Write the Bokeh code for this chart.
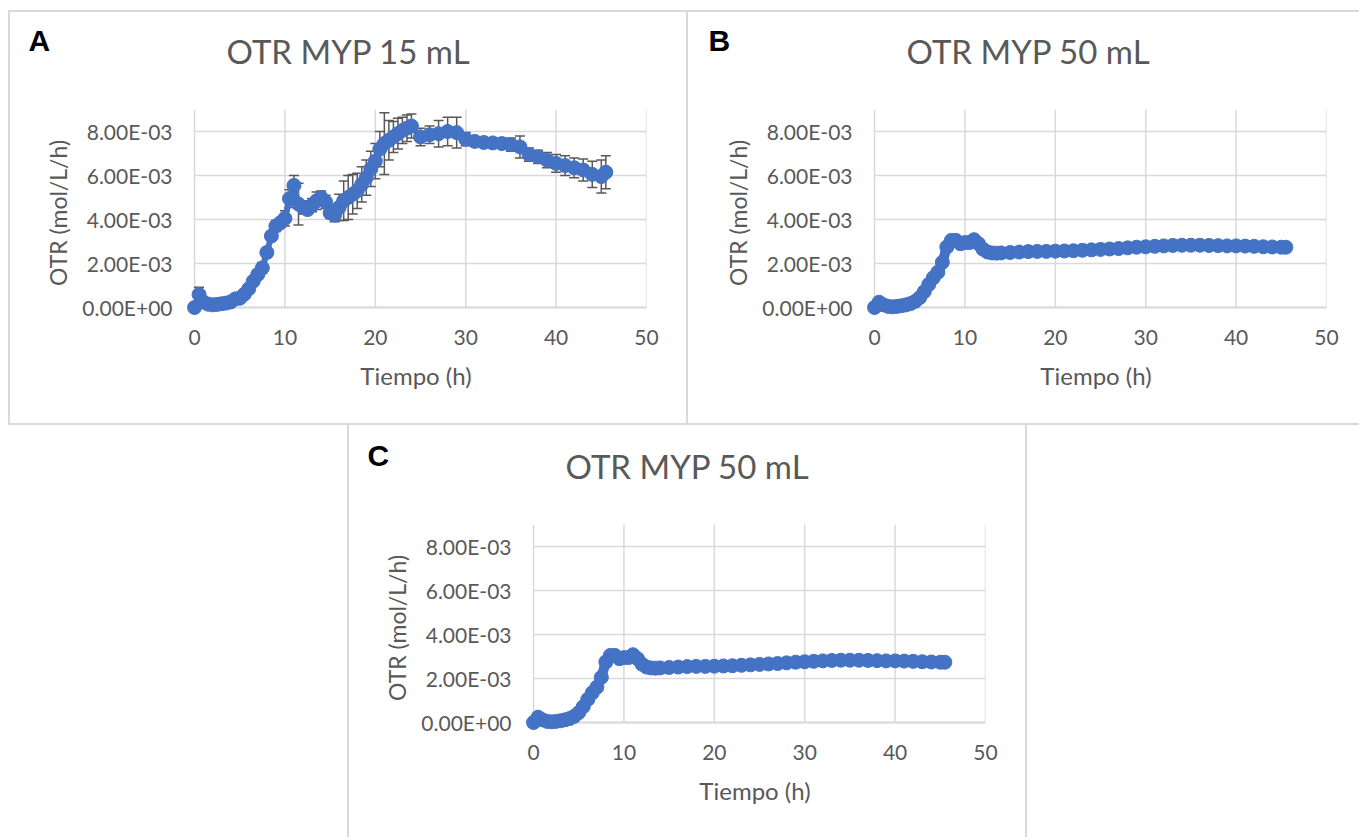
from bokeh.plotting import figure
from bokeh.models import Range1d, FixedTicker, Label, Whisker, TeeHead, ColumnDataSource, Spacer
from bokeh.layouts import column, row
from bokeh.embed import file_html
from bokeh.resources import INLINE

# ---------------- data ----------------
x_ticks = [0, 10, 20, 30, 40, 50]
x_tick_labels = ["0", "10", "20", "30", "40", "50"]
y_ticks = [0.0, 0.002, 0.004, 0.006, 0.008]
y_tick_labels = ["0.00E+00", "2.00E-03", "4.00E-03", "6.00E-03", "8.00E-03"]
x_max = 50
y_max = 0.009

titles = ["OTR MYP 15 mL", "OTR MYP 50 mL", "OTR MYP 50 mL"]
panel_letters = ["A", "B", "C"]
x_label = "Tiempo (h)"
y_label = "OTR (mol/L/h)"

# Panel A: OTR MYP 15 mL (mean and error bar half-width, mol/L/h)
time_a = [0, 0.5, 1, 1.5, 2, 2.5, 3, 3.5, 4, 4.5, 5, 5.5, 6, 6.5, 7, 7.5, 8, 8.5, 9, 9.5,
          10, 10.5, 11, 11.5, 12, 12.5, 13, 13.5, 14, 14.5, 15, 15.5, 16, 16.5, 17, 17.5,
          18, 18.5, 19, 19.5, 20, 20.5, 21, 21.5, 22, 22.5, 23, 23.5, 24, 25, 26, 27, 28,
          29, 30, 31, 32, 33, 34, 35, 36, 37, 38, 39, 40, 41, 42, 43, 44, 45, 45.5]
otr_a = [0.00e-3, 0.59e-3, 0.25e-3, 0.15e-3, 0.12e-3, 0.14e-3, 0.17e-3, 0.20e-3, 0.25e-3, 0.39e-3,
         0.42e-3, 0.60e-3, 0.85e-3, 1.20e-3, 1.50e-3, 1.80e-3, 2.50e-3, 3.25e-3, 3.70e-3, 3.85e-3,
         4.05e-3, 4.95e-3, 5.55e-3, 4.70e-3, 4.55e-3, 4.45e-3, 4.65e-3, 4.85e-3, 5.00e-3, 4.80e-3,
         4.30e-3, 4.20e-3, 4.55e-3, 4.85e-3, 5.00e-3, 5.15e-3, 5.30e-3, 5.60e-3, 5.90e-3, 6.30e-3,
         6.65e-3, 7.20e-3, 7.45e-3, 7.60e-3, 7.75e-3, 7.90e-3, 8.05e-3, 8.15e-3, 8.25e-3, 7.75e-3,
         7.85e-3, 7.90e-3, 8.00e-3, 7.95e-3, 7.65e-3, 7.55e-3, 7.50e-3, 7.48e-3, 7.45e-3, 7.40e-3,
         7.30e-3, 6.95e-3, 6.85e-3, 6.70e-3, 6.55e-3, 6.45e-3, 6.35e-3, 6.25e-3, 6.05e-3, 5.95e-3,
         6.15e-3]
err_a = [0.05e-3, 0.33e-3, 0.10e-3, 0.05e-3, 0.05e-3, 0.05e-3, 0.05e-3, 0.05e-3, 0.05e-3, 0.08e-3,
         0.08e-3, 0.10e-3, 0.15e-3, 0.15e-3, 0.20e-3, 0.25e-3, 0.20e-3, 0.20e-3, 0.25e-3, 0.20e-3,
         0.35e-3, 0.40e-3, 0.45e-3, 0.95e-3, 0.30e-3, 0.20e-3, 0.30e-3, 0.40e-3, 0.30e-3, 0.30e-3,
         0.25e-3, 0.30e-3, 0.60e-3, 0.90e-3, 1.00e-3, 0.90e-3, 0.80e-3, 0.80e-3, 0.80e-3, 0.80e-3,
         0.80e-3, 0.80e-3, 1.40e-3, 0.90e-3, 0.70e-3, 0.70e-3, 0.60e-3, 0.60e-3, 0.55e-3, 0.40e-3,
         0.40e-3, 0.60e-3, 0.65e-3, 0.70e-3, 0.30e-3, 0.20e-3, 0.20e-3, 0.20e-3, 0.20e-3, 0.30e-3,
         0.50e-3, 0.30e-3, 0.30e-3, 0.35e-3, 0.40e-3, 0.45e-3, 0.45e-3, 0.50e-3, 0.60e-3, 0.75e-3,
         0.75e-3]

# Panel B: OTR MYP 50 mL
time_b = [0, 0.5, 1, 1.5, 2, 2.5, 3, 3.5, 4, 4.5, 5, 5.5, 6, 6.5, 7, 7.5, 8, 8.5, 9, 9.5,
          10, 10.5, 11, 11.5, 12, 12.5, 13, 13.5, 14, 15, 16, 17, 18, 19, 20, 21, 22, 23, 24,
          25, 26, 27, 28, 29, 30, 31, 32, 33, 34, 35, 36, 37, 38, 39, 40, 41, 42, 43, 44, 45, 45.5]
otr_b = [0.00e-3, 0.24e-3, 0.12e-3, 0.05e-3, 0.03e-3, 0.05e-3, 0.08e-3, 0.12e-3, 0.18e-3, 0.28e-3,
         0.45e-3, 0.72e-3, 1.05e-3, 1.35e-3, 1.60e-3, 2.05e-3, 2.75e-3, 3.05e-3, 3.05e-3, 2.90e-3,
         2.95e-3, 2.95e-3, 3.08e-3, 2.90e-3, 2.65e-3, 2.52e-3, 2.48e-3, 2.47e-3, 2.48e-3, 2.50e-3,
         2.52e-3, 2.54e-3, 2.55e-3, 2.55e-3, 2.56e-3, 2.57e-3, 2.58e-3, 2.60e-3, 2.62e-3, 2.64e-3,
         2.66e-3, 2.68e-3, 2.71e-3, 2.74e-3, 2.76e-3, 2.78e-3, 2.80e-3, 2.82e-3, 2.83e-3, 2.83e-3,
         2.83e-3, 2.82e-3, 2.81e-3, 2.80e-3, 2.80e-3, 2.79e-3, 2.78e-3, 2.76e-3, 2.75e-3, 2.74e-3,
         2.74e-3]

# Panel C: the same 50 mL series, shown again
time_c = list(time_b)
otr_c = list(otr_b)

# ---------------- style ----------------
BLUE = "#4472c4"
GRID = "#d9d9d9"
TEXT = "#595959"
FONT = "Lato"
X_VIEW = (-1.0, 50.0)
Y_VIEW = (-0.41e-3, 0.009)


def make_panel(title, letter, t, y, err, width, height, mleft, mright, mtop, mbottom, shadow, lw):
    p = figure(width=width, height=height,
               x_range=Range1d(*X_VIEW), y_range=Range1d(*Y_VIEW),
               output_backend="svg", toolbar_location=None,
               min_border_left=mleft, min_border_right=mright,
               min_border_top=mtop, min_border_bottom=mbottom,
               background_fill_color=None, border_fill_color=None,
               outline_line_color=None)
    p.grid.visible = False
    p.styles = {"box-shadow": shadow}

    # gridlines (drawn from the tick arrays)
    p.segment(x0=x_ticks, y0=[0] * len(x_ticks), x1=x_ticks, y1=[y_max] * len(x_ticks),
              line_color=GRID, line_width=1.5, level="image")
    p.segment(x0=[0] * len(y_ticks), y0=y_ticks, x1=[x_max] * len(y_ticks), y1=y_ticks,
              line_color=GRID, line_width=1.5, level="image")
    p.segment(x0=[0], y0=[0], x1=[x_max], y1=[0], line_color=GRID, line_width=2, level="image")

    if err is not None:
        src = ColumnDataSource(dict(t=t,
                                    up=[a + b for a, b in zip(y, err)],
                                    lo=[a - b for a, b in zip(y, err)]))
        w = Whisker(base="t", upper="up", lower="lo", source=src,
                    line_color=TEXT, line_width=1.5, level="underlay",
                    upper_head=TeeHead(size=10, line_color=TEXT, line_width=1.5),
                    lower_head=TeeHead(size=10, line_color=TEXT, line_width=1.5))
        p.add_layout(w)

    p.line(t, y, line_color=BLUE, line_width=lw, line_join="round")
    p.scatter(t, y, size=14, fill_color=BLUE, line_color=BLUE)

    for ax in (p.xaxis[0], p.yaxis[0]):
        ax.axis_line_color = None
        ax.major_tick_line_color = None
        ax.minor_tick_line_color = None
        ax.major_tick_out = 0
        ax.major_tick_in = 0
        ax.minor_tick_out = 0
        ax.minor_tick_in = 0
        ax.major_label_text_font = FONT
        ax.major_label_text_font_size = "21px"
        ax.major_label_text_color = TEXT
        ax.axis_label_text_font = FONT
        ax.axis_label_text_font_style = "normal"
        ax.axis_label_text_color = TEXT

    p.xaxis.ticker = FixedTicker(ticks=x_ticks)
    p.xaxis.major_label_overrides = {k: v for k, v in zip(x_ticks, x_tick_labels)}
    p.xaxis.major_label_standoff = 13
    p.xaxis.axis_label = x_label
    p.xaxis.axis_label_text_font_size = "24px"
    p.xaxis.axis_label_standoff = 13

    p.yaxis.ticker = FixedTicker(ticks=y_ticks)
    p.yaxis.major_label_overrides = {k: v for k, v in zip(y_ticks, y_tick_labels)}
    p.yaxis.major_label_standoff = 13
    p.yaxis.axis_label = y_label
    p.yaxis.axis_label_text_font_size = "23px"
    p.yaxis.axis_label_standoff = 7

    # title and panel letter, placed in the top border panel
    p.add_layout(Label(x=163, y=59, x_units="screen", y_units="screen", text=title,
                       text_font=FONT, text_font_size="33px", text_color=TEXT,
                       text_align="center", text_baseline="alphabetic"), "above")
    p.add_layout(Label(x=-157, y=29, x_units="screen", y_units="screen", text=letter,
                       text_font="Liberation Sans", text_font_style="bold",
                       text_font_size="30px", text_color="black",
                       text_align="left", text_baseline="alphabetic"), "above")
    return p


B = GRID
pa = make_panel(titles[0], panel_letters[0], time_a, otr_a, err_a, 680, 415, 177, 42, 99, 109,
                f"inset 2px 0 0 0 {B}, inset 0 2px 0 0 {B}, inset 0 -2px 0 0 {B}, inset -2px 0 0 0 {B}", 6)
pb = make_panel(titles[1], panel_letters[1], time_b, otr_b, None, 671, 415, 177, 33, 99, 109,
                f"inset 0 2px 0 0 {B}, inset 0 -2px 0 0 {B}", 10)
pc = make_panel(titles[2], panel_letters[2], time_c, otr_c, None, 680, 412, 177, 42, 99, 106,
                f"inset 2px 0 0 0 {B}, inset -2px 0 0 0 {B}", 10)

layout = column(Spacer(width=1359, height=10),
                row(Spacer(width=8, height=415), pa, pb),
                row(Spacer(width=347, height=412), pc))

open("out.html", "w").write(file_html(layout, INLINE))
